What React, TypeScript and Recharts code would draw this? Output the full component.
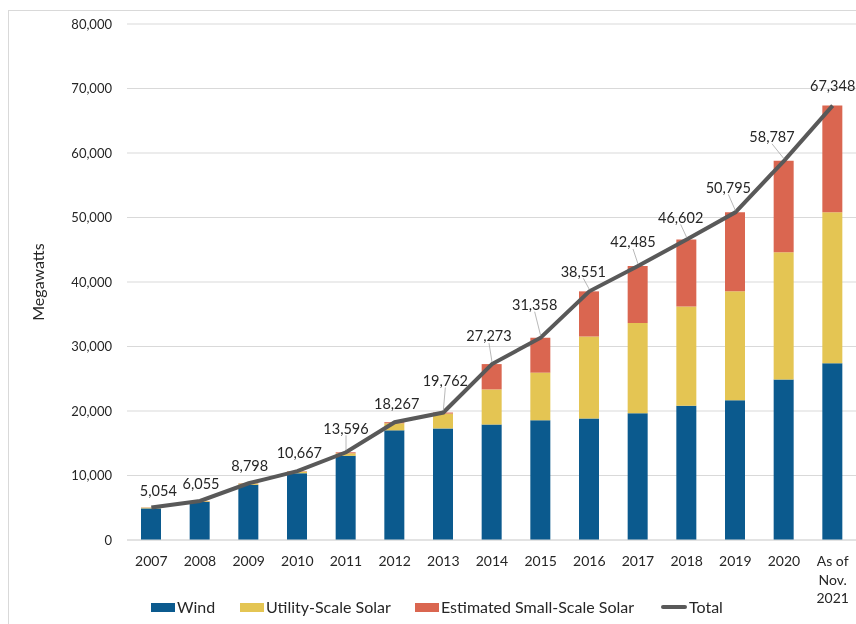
import {
  ComposedChart,
  Bar,
  Line,
  XAxis,
  YAxis,
  CartesianGrid,
  Legend,
  LabelList,
} from "recharts";

const FONT = "Lato, 'Noto Sans', sans-serif";
const TEXT = "#262626";

const categories = [
  "2007", "2008", "2009", "2010", "2011", "2012", "2013", "2014",
  "2015", "2016", "2017", "2018", "2019", "2020", "As of\nNov.\n2021",
];

// MW by source
const wind = [4900, 5900, 8550, 10350, 13050, 17000, 17300, 17900, 18550, 18850, 19650, 20800, 21650, 24900, 27400];
const utilitySolar = [120, 120, 200, 250, 400, 1100, 2300, 5450, 7400, 12700, 14000, 15400, 16900, 19700, 23400];
const smallSolar = [34, 35, 48, 67, 146, 167, 162, 3923, 5408, 7001, 8835, 10402, 12245, 14187, 16548];
const totals = [5054, 6055, 8798, 10667, 13596, 18267, 19762, 27273, 31358, 38551, 42485, 46602, 50795, 58787, 67348];

const yTicks = [0, 10000, 20000, 30000, 40000, 50000, 60000, 70000, 80000];

// where each total label sits relative to its point [dx, dy]
const labelOffsets = [
  [7, -17], [1, -17], [1, -17], [2, -18], [0, -24], [2, -18], [2, -32], [-3, -28],
  [-6, -33], [-6, -20], [-5, -24], [-6, -22], [-7, -25], [-12, -24], [0, -20],
];

const data = categories.map((year, i) => ({
  year,
  wind: wind[i],
  utility: utilitySolar[i],
  small: smallSolar[i],
  total: totals[i],
}));

const CategoryTick = ({ x, y, payload }: any) => {
  const lines = String(payload.value).split("\n");
  return (
    <text x={x} y={y} textAnchor="middle" fill={TEXT} fontSize={14} fontFamily={FONT}>
      {lines.map((l, i) => (
        <tspan key={i} x={x} dy={i === 0 ? 24 : 18.5}>
          {l}
        </tspan>
      ))}
    </text>
  );
};

const AxisTitle = ({ viewBox }: any) => {
  const cx = viewBox.x + 29;
  const cy = viewBox.y + viewBox.height / 2;
  return (
    <text
      x={cx}
      y={cy}
      transform={`rotate(-90 ${cx} ${cy})`}
      textAnchor="middle"
      dominantBaseline="central"
      fill={TEXT}
      fontSize={16}
      fontFamily={FONT}
    >
      Megawatts
    </text>
  );
};

const TotalLabel = (props: any) => {
  const { index, value } = props;
  const x = props.x ?? props.viewBox?.x;
  const y = props.y ?? props.viewBox?.y;
  const [dx, dy] = labelOffsets[index];
  const lx = x + dx;
  const ly = y + dy;
  return (
    <g>
      {dy <= -20 && index < 14 && (
        <line x1={lx} y1={ly + 7} x2={x} y2={y - 2} stroke="#a6a6a6" strokeWidth={0.8} />
      )}
      <text
        x={lx}
        y={ly}
        dy="0.36em"
        textAnchor="middle"
        fill={TEXT}
        fontSize={14.5}
        fontFamily={FONT}
      >
        {Number(value).toLocaleString("en-US")}
      </text>
    </g>
  );
};

const legendItems = [
  { label: "Wind", color: "#0b5a8e", left: 143, kind: "box" },
  { label: "Utility-Scale Solar", color: "#e4c553", left: 232, kind: "box" },
  { label: "Estimated Small-Scale Solar", color: "#da6650", left: 407, kind: "box" },
  { label: "Total", color: "#595959", left: 653, kind: "line" },
];

const renderLegend = () => (
  <div style={{ position: "relative", width: 852, height: 20, fontFamily: FONT }}>
    {legendItems.map((it) => (
      <div
        key={it.label}
        style={{
          position: "absolute",
          left: it.left,
          top: 0,
          height: 20,
          lineHeight: "20px",
          display: "flex",
          alignItems: "center",
          whiteSpace: "nowrap",
          fontSize: 16,
          color: TEXT,
        }}
      >
        {it.kind === "box" ? (
          <span style={{ width: 24, height: 9, background: it.color, marginRight: 2 }} />
        ) : (
          <span style={{ width: 26, height: 4, borderRadius: 2, background: it.color, marginRight: 2 }} />
        )}
        {it.label}
      </div>
    ))}
  </div>
);

export default function App() {
  return (
    <div
      style={{
        position: "fixed",
        left: 8,
        top: 8,
        width: 848,
        height: 616,
        overflow: "hidden",
      }}
    >
      <div
        style={{
          position: "absolute",
          left: 0,
          top: 2,
          width: 900,
          height: 700,
          borderTop: "1px solid #d9d9d9",
          borderLeft: "1px solid #d9d9d9",
        }}
      />
      <div style={{ position: "absolute", left: 0, top: 0 }}>
        <ComposedChart
          width={852}
          height={616}
          data={data}
          margin={{ top: 16, right: 3, left: 0, bottom: 0 }}
        >
          <CartesianGrid vertical={false} stroke="#d9d9d9" />
          <XAxis
            dataKey="year"
            height={84}
            tickLine={false}
            tickSize={0}
            axisLine={{ stroke: "#d9d9d9" }}
            interval={0}
            tick={<CategoryTick />}
          />
          <YAxis
            width={119}
            domain={[0, 80000]}
            ticks={yTicks}
            axisLine={false}
            tickLine={false}
            tickSize={0}
            tickMargin={15}
            tick={{ fill: TEXT, fontSize: 13, fontFamily: FONT }}
            tickFormatter={(v: number) => v.toLocaleString("en-US")}
            label={<AxisTitle />}
          />
          <Legend
            layout="horizontal"
            verticalAlign="middle"
            align="center"
            wrapperStyle={{ top: 589, left: 0, width: 852, height: 20 }}
            content={renderLegend}
          />
          <Bar dataKey="wind" stackId="a" fill="#0b5a8e" barSize={20} isAnimationActive={false} />
          <Bar dataKey="utility" stackId="a" fill="#e4c553" barSize={20} isAnimationActive={false} />
          <Bar dataKey="small" stackId="a" fill="#da6650" barSize={20} isAnimationActive={false} />
          <Line
            dataKey="total"
            type="linear"
            stroke="#595959"
            strokeWidth={4}
            dot={false}
            isAnimationActive={false}
          >
            <LabelList dataKey="total" content={<TotalLabel />} />
          </Line>
        </ComposedChart>
      </div>
    </div>
  );
}
